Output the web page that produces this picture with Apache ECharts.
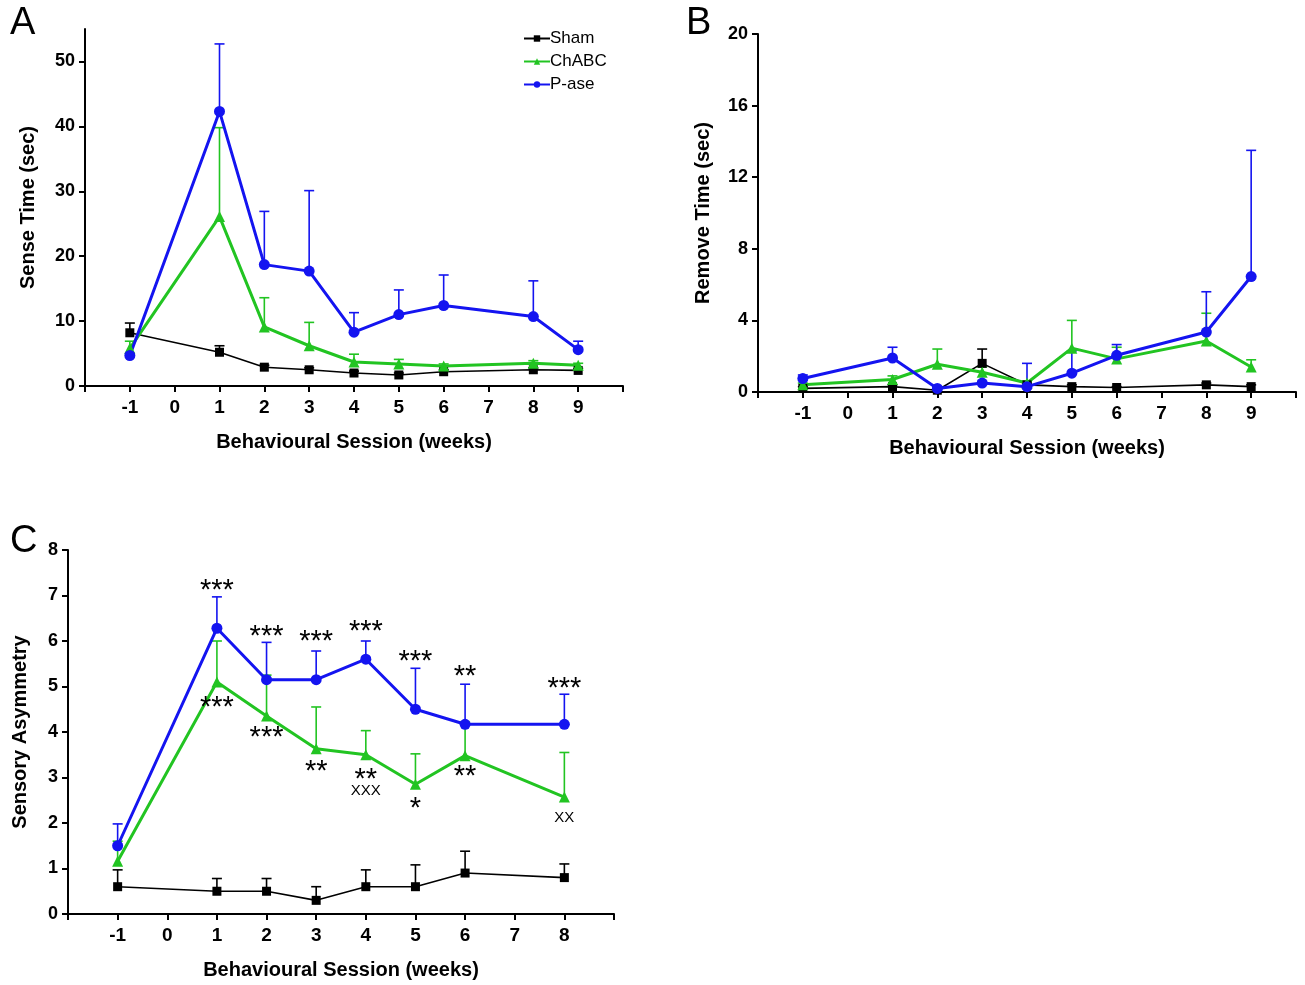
<!DOCTYPE html>
<html>
<head>
<meta charset="utf-8">
<script src="https://cdn.jsdelivr.net/npm/echarts@6/dist/echarts.min.js"></script>
<style>
  html, body { margin: 0; padding: 0; background: #fff; }
  #main { width: 1305px; height: 985px; }
</style>
</head>
<body>
<div id="main"></div>
<script>
var myChart = echarts.init(document.getElementById('main'));

// weeks
var weeksAB = [-1, 1, 2, 3, 4, 5, 6, 8, 9];
var weeksC = [-1, 1, 2, 3, 4, 5, 6, 8];
var tickLabelsAB = [-1, 0, 1, 2, 3, 4, 5, 6, 7, 8, 9];
var tickLabelsC = [-1, 0, 1, 2, 3, 4, 5, 6, 7, 8];

// A - sense time (mean, mean + error)
var shamSense = [8.2, 5.2, 2.9, 2.5, 2.0, 1.7, 2.2, 2.5, 2.4];
var shamSenseTop = [9.7, 6.2, 3.2, 2.8, 2.3, 2.0, 2.5, 2.8, 2.7];
var chabcSense = [5.8, 26.1, 9.1, 6.2, 3.7, 3.4, 3.1, 3.5, 3.2];
var chabcSenseTop = [6.9, 39.8, 13.6, 9.8, 4.9, 4.1, 3.4, 3.9, 3.5];
var paseSense = [4.7, 42.3, 18.7, 17.7, 8.3, 11.0, 12.4, 10.7, 5.6];
var paseSenseTop = [5.0, 52.7, 26.9, 30.1, 11.3, 14.8, 17.1, 16.2, 6.9];

// B - remove time
var shamRemove = [0.2, 0.3, 0.1, 1.6, 0.4, 0.3, 0.25, 0.4, 0.3];
var shamRemoveTop = [0.3, 0.4, 0.15, 2.4, 0.5, 0.4, 0.3, 0.5, 0.4];
var chabcRemove = [0.4, 0.7, 1.55, 1.1, 0.5, 2.45, 1.85, 2.85, 1.4];
var chabcRemoveTop = [0.5, 0.9, 2.4, 1.4, 0.6, 4.0, 2.5, 4.4, 1.8];
var paseRemove = [0.75, 1.9, 0.2, 0.5, 0.3, 1.05, 2.05, 3.35, 6.45];
var paseRemoveTop = [0.95, 2.5, 0.3, 0.6, 1.6, 2.3, 2.65, 5.6, 13.5];

// C - sensory asymmetry
var shamAsym = [0.6, 0.5, 0.5, 0.3, 0.6, 0.6, 0.9, 0.8];
var shamAsymTop = [0.97, 0.78, 0.78, 0.6, 0.97, 1.08, 1.38, 1.1];
var chabcAsym = [1.16, 5.1, 4.35, 3.63, 3.5, 2.85, 3.48, 2.57];
var chabcAsymTop = [1.6, 6.0, 5.25, 4.55, 4.03, 3.52, 4.22, 3.55];
var paseAsym = [1.5, 6.28, 5.15, 5.15, 5.6, 4.5, 4.17, 4.17];
var paseAsymTop = [1.98, 6.97, 5.97, 5.78, 6.0, 5.4, 5.05, 4.83];

// significance marks in C
var sigX = [1, 2, 3, 4, 5, 6, 8, 1, 2, 3, 4, 4, 5, 6, 8];
var sigY = [7.23, 6.21, 6.1, 6.32, 5.68, 5.33, 5.08, 4.66, 4.0, 3.25, 3.07, 2.7, 2.45, 3.14, 2.12];
var sigText = ['***', '***', '***', '***', '***', '**', '***', '***', '***', '**', '**', 'XXX', '*', '**', 'XX'];

var FONT = '"Liberation Sans", Arial, sans-serif';
var BLACK = '#000000', GREEN = '#22c422', BLUE = '#1414f0';

function pairs(xs, ys) {
    return xs.map(function (x, i) { return [x, ys[i]]; });
}
function triples(xs, ys, tops) {
    return xs.map(function (x, i) { return [x, ys[i], tops[i]]; });
}
function range(a, b, step) {
    var out = [];
    for (var v = a; v <= b + 1e-9; v += step) out.push(v);
    return out;
}

function xAxisFor(grid, max, labels) {
    return {
        type: 'value', gridIndex: grid, min: -2, max: max, interval: 1,
        name: 'Behavioural Session (weeks)', nameLocation: 'middle', nameGap: 46,
        nameTextStyle: { fontFamily: FONT, fontWeight: 'bold', fontSize: 20, color: '#000' },
        axisLine: { onZero: false, lineStyle: { color: '#000', width: 2 } },
        axisTick: { length: 6, lineStyle: { width: 2 }, customValues: range(-2, max, 1) },
        axisLabel: { customValues: labels, margin: 12, fontFamily: FONT, fontWeight: 'bold', fontSize: 19, color: '#000' },
        splitLine: { show: false }
    };
}
function yAxisFor(grid, max, step, ticks, name, gap) {
    return {
        type: 'value', gridIndex: grid, min: 0, max: max, interval: step,
        name: name, nameLocation: 'middle', nameGap: gap,
        nameTextStyle: { fontFamily: FONT, fontWeight: 'bold', fontSize: 20, color: '#000' },
        axisLine: { show: true, onZero: false, lineStyle: { color: '#000', width: 2 } },
        axisTick: { show: true, length: 6, lineStyle: { width: 2 }, customValues: ticks },
        axisLabel: { customValues: ticks, margin: 10, fontFamily: FONT, fontWeight: 'bold', fontSize: 18, color: '#000' },
        splitLine: { show: false }
    };
}

function lineSeries(name, grid, xs, ys, color, symbol, size, width) {
    return {
        name: name, type: 'line', xAxisIndex: grid, yAxisIndex: grid,
        data: pairs(xs, ys), symbol: symbol, symbolSize: size,
        itemStyle: { color: color }, lineStyle: { color: color, width: width },
        z: 3
    };
}
function errSeries(grid, xs, ys, tops, color) {
    return {
        type: 'custom', xAxisIndex: grid, yAxisIndex: grid,
        data: triples(xs, ys, tops), silent: true, z: 2,
        encode: { x: 0, y: [1, 2] },
        renderItem: function (params, api) {
            var p0 = api.coord([api.value(0), api.value(1)]);
            var p1 = api.coord([api.value(0), api.value(2)]);
            return {
                type: 'group', children: [
                    { type: 'line', shape: { x1: p0[0], y1: p0[1], x2: p1[0], y2: p1[1] }, style: { stroke: color, lineWidth: 1.6 } },
                    { type: 'line', shape: { x1: p1[0] - 5, y1: p1[1], x2: p1[0] + 5, y2: p1[1] }, style: { stroke: color, lineWidth: 1.6 } }
                ]
            };
        }
    };
}

var series = [];
[[0, weeksAB, shamSense, shamSenseTop, chabcSense, chabcSenseTop, paseSense, paseSenseTop],
 [1, weeksAB, shamRemove, shamRemoveTop, chabcRemove, chabcRemoveTop, paseRemove, paseRemoveTop],
 [2, weeksC, shamAsym, shamAsymTop, chabcAsym, chabcAsymTop, paseAsym, paseAsymTop]].forEach(function (p) {
    var g = p[0], xs = p[1];
    series.push(errSeries(g, xs, p[2], p[3], BLACK));
    series.push(errSeries(g, xs, p[4], p[5], GREEN));
    series.push(errSeries(g, xs, p[6], p[7], BLUE));
    series.push(lineSeries('Sham', g, xs, p[2], BLACK, 'rect', 9, 1.6));
    series.push(lineSeries('ChABC', g, xs, p[4], GREEN, 'triangle', 11, 3));
    series.push(lineSeries('P-ase', g, xs, p[6], BLUE, 'circle', 11, 3));
});

series.push({
    type: 'custom', xAxisIndex: 2, yAxisIndex: 2, silent: true, z: 4,
    data: sigX.map(function (x, i) { return [x, sigY[i], i]; }),
    encode: { x: 0, y: 1 },
    renderItem: function (params, api) {
        var pt = api.coord([api.value(0), api.value(1)]);
        var txt = sigText[api.value(2)];
        var star = txt.indexOf('*') >= 0;
        return {
            type: 'text', x: pt[0], y: pt[1] + (star ? 6 : 0),
            style: {
                text: txt, fill: '#000', align: 'center', verticalAlign: 'middle',
                font: (star ? '29px ' : '15px ') + FONT
            }
        };
    }
});

var option = {
    animation: false,
    backgroundColor: '#fff',
    title: [
        { text: 'A', left: 5, top: 0, textStyle: { fontFamily: FONT, fontWeight: 'normal', fontSize: 38, color: '#000' } },
        { text: 'B', left: 681, top: 0, textStyle: { fontFamily: FONT, fontWeight: 'normal', fontSize: 38, color: '#000' } },
        { text: 'C', left: 5, top: 518, textStyle: { fontFamily: FONT, fontWeight: 'normal', fontSize: 38, color: '#000' } }
    ],
    legend: {
        data: ['Sham', 'ChABC', 'P-ase'], orient: 'vertical', left: 518, top: 25,
        itemWidth: 26, itemHeight: 8, itemGap: 6,
        textStyle: { fontFamily: FONT, fontSize: 17, color: '#000', padding: [0, 0, 0, -5] }
    },
    grid: [
        { left: 85, top: 29, width: 538, height: 357 },
        { left: 758, top: 34, width: 538, height: 358 },
        { left: 68, top: 550, width: 546, height: 364 }
    ],
    xAxis: [
        xAxisFor(0, 10, tickLabelsAB),
        xAxisFor(1, 10, tickLabelsAB),
        xAxisFor(2, 9, tickLabelsC)
    ],
    yAxis: [
        yAxisFor(0, 55, 10, [0, 10, 20, 30, 40, 50], 'Sense Time (sec)', 47),
        yAxisFor(1, 20, 4, [0, 4, 8, 12, 16, 20], 'Remove Time (sec)', 45),
        yAxisFor(2, 8, 1, [0, 1, 2, 3, 4, 5, 6, 7, 8], 'Sensory Asymmetry', 38)
    ],
    series: series
};
myChart.setOption(option);
</script>
</body>
</html>
